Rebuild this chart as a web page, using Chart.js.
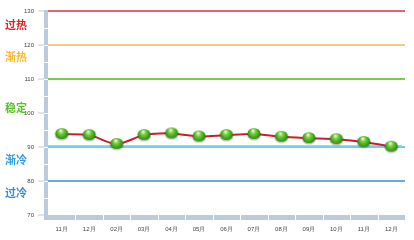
<!DOCTYPE html>
<html>
<head>
<meta charset="utf-8">
<script src="https://cdn.jsdelivr.net/npm/chart.js@4.4.1/dist/chart.umd.min.js"></script>
<style>
  html, body { margin: 0; padding: 0; background: #fff; }
  #wrap { width: 414px; height: 240px; }
</style>
</head>
<body>
<div id="wrap"><canvas id="chart" width="414" height="240"></canvas></div>
<script>
// 数据
const categories = ['11月', '12月', '02月', '03月', '04月', '05月', '06月', '07月', '08月', '09月', '10月', '11月', '12月'];
const values = [93.8, 93.5, 90.9, 93.5, 94.0, 93.1, 93.5, 93.8, 93.0, 92.6, 92.3, 91.5, 90.1];
const yTicks = [70, 80, 90, 100, 110, 120, 130];
const levelValues = [130, 120, 110, 90, 80];
const zoneNames = ['过热', '渐热', '稳定', '渐冷', '过冷'];
const zoneCenters = [126, 116.5, 101.5, 86.2, 76.5];

// 样式
const levelColors = { 130: '#e2666a', 120: '#f9c68a', 110: '#7acd4c', 90: '#74cdee', 80: '#6ea7dc' };
const zoneColors = ['#d7262d', '#f6b93a', '#5cc22c', '#2f9fdb', '#3a8ed3'];
const barColor = '#bccbdc';

// 绿色小球
function makeBall() {
  const c = document.createElement('canvas');
  c.width = 16; c.height = 14;
  const g = c.getContext('2d');
  g.fillStyle = 'rgba(0,0,0,0.2)';
  g.beginPath(); g.ellipse(8, 8, 7, 5.5, 0, 0, Math.PI * 2); g.fill();
  const grd = g.createRadialGradient(7, 3.5, 0.5, 8, 6.5, 7.5);
  grd.addColorStop(0, '#dcffc4');
  grd.addColorStop(0.3, '#72cc3c');
  grd.addColorStop(0.75, '#379416');
  grd.addColorStop(1, '#24680c');
  g.fillStyle = grd;
  g.beginPath(); g.ellipse(8, 6.5, 6.5, 5.5, 0, 0, Math.PI * 2); g.fill();
  return c;
}

// 轴条、分区文字
const decorPlugin = {
  id: 'decor',
  beforeDatasetsDraw(chart) {
    const { ctx, chartArea: a, scales } = chart;
    const y = scales.y, x = scales.x;
    ctx.save();
    // 90 处的绿线
    const y90 = y.getPixelForValue(90);
    ctx.strokeStyle = '#b2e282';
    ctx.lineWidth = 1;
    ctx.beginPath(); ctx.moveTo(a.left, Math.round(y90) - 1.5); ctx.lineTo(a.right - 3, Math.round(y90) - 1.5); ctx.stroke();
    // 左侧与底部条
    ctx.fillStyle = barColor;
    ctx.fillRect(a.left - 4, a.top - 1, 4, a.bottom - a.top + 6);
    ctx.fillRect(a.left - 4, a.bottom, a.right - a.left + 4, 5);
    ctx.strokeStyle = '#fff';
    ctx.lineWidth = 1;
    for (let v = 75; v < 130; v += 5) {
      const py = Math.round(y.getPixelForValue(v)) + 0.5;
      ctx.beginPath(); ctx.moveTo(a.left - 4, py); ctx.lineTo(a.left, py); ctx.stroke();
    }
    for (let i = 1; i < categories.length; i++) {
      const px = Math.round((x.getPixelForValue(i - 1) + x.getPixelForValue(i)) / 2) + 0.5;
      ctx.beginPath(); ctx.moveTo(px, a.bottom); ctx.lineTo(px, a.bottom + 5); ctx.stroke();
    }
    // 分区文字
    ctx.font = 'bold 11px "Noto Sans CJK SC"';
    ctx.textAlign = 'left';
    ctx.textBaseline = 'middle';
    zoneNames.forEach((name, i) => {
      ctx.fillStyle = zoneColors[i];
      ctx.fillText(name, 5, y.getPixelForValue(zoneCenters[i]));
    });
    ctx.restore();
  }
};

const chart = new Chart(document.getElementById('chart'), {
  type: 'line',
  data: {
    labels: categories,
    datasets: [{
      data: values,
      borderColor: '#c8202a',
      borderWidth: 2,
      tension: 0.3,
      pointStyle: makeBall(),
      pointRadius: 7,
      pointHoverRadius: 7
    }]
  },
  options: {
    responsive: false,
    animation: false,
    devicePixelRatio: 1,
    layout: { padding: { top: 11, right: 4, left: 0, bottom: 0 } },
    plugins: { legend: { display: false }, tooltip: { enabled: false } },
    scales: {
      x: {
        offset: true,
        grid: { display: false, drawTicks: false },
        border: { display: false },
        ticks: { color: '#444', font: { size: 6 }, padding: 11, maxRotation: 0, autoSkip: false },
        afterFit: s => { s.height = 25; }
      },
      y: {
        min: 70,
        max: 130,
        afterBuildTicks: s => { s.ticks = yTicks.map(v => ({ value: v })); },
        grid: {
          lineWidth: 2,
          color: c => levelColors[c.tick && c.tick.value] || 'rgba(0,0,0,0)',
          tickColor: '#c8c8c8',
          tickWidth: 1,
          tickLength: 10
        },
        border: { display: false },
        ticks: { color: '#444', font: { size: 6 }, padding: 4 },
        afterFit: s => { s.width = 48; }
      }
    }
  },
  plugins: [decorPlugin]
});
</script>
</body>
</html>
